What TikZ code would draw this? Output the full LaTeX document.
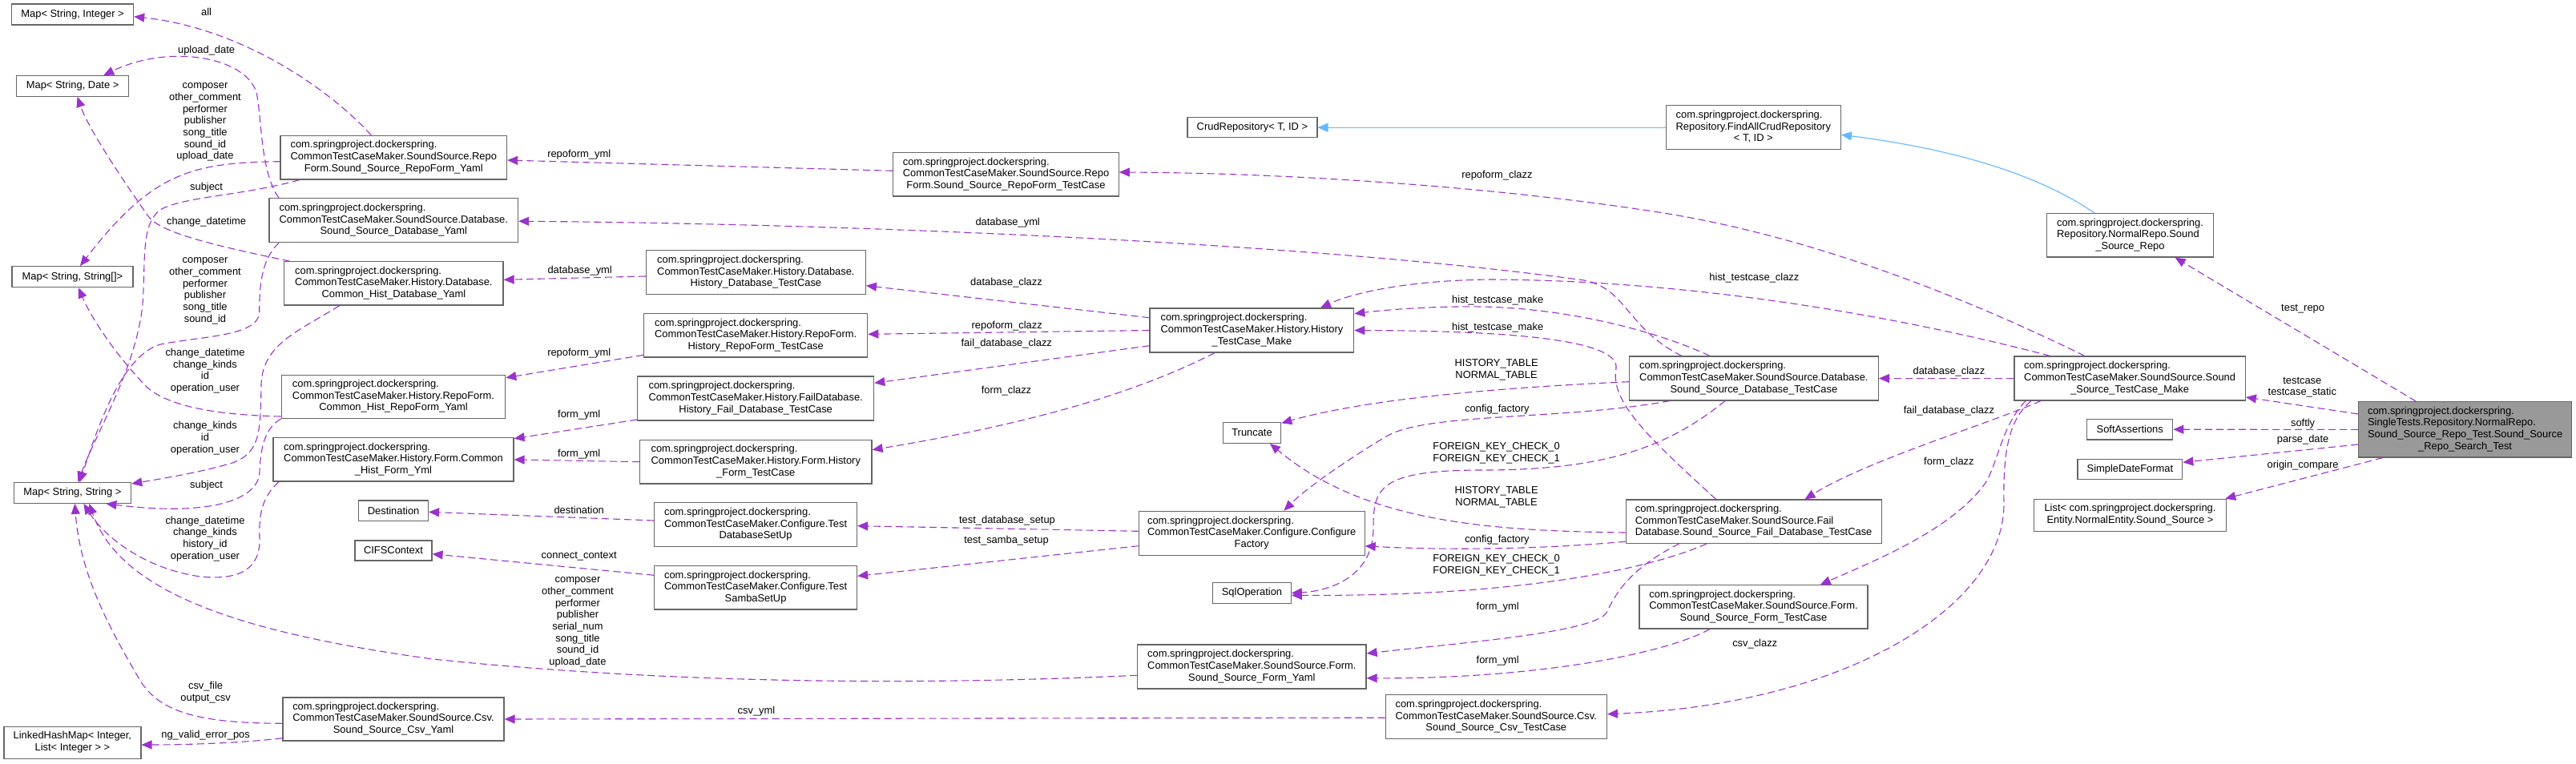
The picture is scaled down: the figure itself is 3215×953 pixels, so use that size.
\documentclass[tikz,border=0pt]{standalone}
\usepackage{fontspec}
\setmainfont{Liberation Sans}
\usetikzlibrary{arrows.meta,positioning}

\definecolor{edgepurple}{HTML}{9A32CD}
\definecolor{boxgray}{HTML}{666666}
\definecolor{mainfill}{HTML}{999999}
\definecolor{inheritblue}{HTML}{63B8FF}

\newcommand{\dfont}{\fontsize{12.9}{14.7}\selectfont}
\newcommand{\csp}{com.springproject.dockerspring.}
% class names: upper lines flush left, last line centred
\newcommand{\clstwo}[2]{\begin{tabular}{@{}l@{}}#1\\\multicolumn{1}{@{}c@{}}{#2}\end{tabular}}
\newcommand{\clsthree}[3]{\begin{tabular}{@{}l@{}}#1\\#2\\\multicolumn{1}{@{}c@{}}{#3}\end{tabular}}
\newcommand{\clsfour}[4]{\begin{tabular}{@{}l@{}}#1\\#2\\#3\\\multicolumn{1}{@{}c@{}}{#4}\end{tabular}}

\begin{document}
\begin{tikzpicture}[
    x=1pt, y=-1pt,
    font=\dfont,
    cbox/.style 2 args={draw=boxgray, line width=1.2pt, fill=white, inner sep=0pt,
        minimum width=#1pt, minimum height=#2pt},
    lbl/.style={inner sep=0pt, align=center},
    member/.style={draw=edgepurple, line width=1.1pt, dash pattern=on 9pt off 5pt,
        -{Triangle[length=13pt,width=11pt]}},
    inherit/.style={draw=inheritblue, line width=1.1pt,
        -{Triangle[length=13pt,width=11pt]}}
]
    \path[use as bounding box, fill=white] (0,0) rectangle (3215,953);

    % column 1
    \node[cbox={152}{26}] (mapInt) at (90.6,18) {Map< String, Integer >};
    \node[cbox={140}{25.5}] (mapDate) at (90.6,107.4) {Map< String, Date >};
    \node[cbox={151}{26}] (mapArr) at (90.4,345.7) {Map< String, String[]>};
    \node[cbox={146.5}{25.6}] (mapStr) at (90.4,615.5) {Map< String, String >};
    \node[cbox={171}{40}] (linkedMap) at (90.4,927.3) {\clstwo{LinkedHashMap< Integer,}{List< Integer > >}};

    % column 2
    \node[cbox={282.5}{54.7}] (ssRepoYaml) at (491.3,196.7) {\clsthree{\csp}{CommonTestCaseMaker.SoundSource.Repo}{Form.Sound\_Source\_RepoForm\_Yaml}};
    \node[cbox={310.6}{55}] (ssDbYaml) at (491.3,275.2) {\clsthree{\csp}{CommonTestCaseMaker.SoundSource.Database.}{Sound\_Source\_Database\_Yaml}};
    \node[cbox={273.3}{54.3}] (histDbYaml) at (491.4,353.9) {\clsthree{\csp}{CommonTestCaseMaker.History.Database.}{Common\_Hist\_Database\_Yaml}};
    \node[cbox={279.4}{54}] (histRepoYaml) at (491,495.3) {\clsthree{\csp}{CommonTestCaseMaker.History.RepoForm.}{Common\_Hist\_RepoForm\_Yaml}};
    \node[cbox={300}{54.3}] (histFormYml) at (491,573.9) {\clsthree{\csp}{CommonTestCaseMaker.History.Form.Common}{\_Hist\_Form\_Yml}};
    \node[cbox={86.8}{25.7}] (destination) at (491.1,637.9) {Destination};
    \node[cbox={96}{25}] (cifs) at (491,687.5) {CIFSContext};
    \node[cbox={276}{54}] (ssCsvYaml) at (491,898) {\clsthree{\csp}{CommonTestCaseMaker.SoundSource.Csv.}{Sound\_Source\_Csv\_Yaml}};

    % column 3
    \node[cbox={274}{55}] (histDbCase) at (943.4,340.2) {\clsthree{\csp}{CommonTestCaseMaker.History.Database.}{History\_Database\_TestCase}};
    \node[cbox={279}{54.3}] (histRepoCase) at (943.2,418.9) {\clsthree{\csp}{CommonTestCaseMaker.History.RepoForm.}{History\_RepoForm\_TestCase}};
    \node[cbox={295}{55}] (histFailCase) at (943.2,497.5) {\clsthree{\csp}{CommonTestCaseMaker.History.FailDatabase.}{History\_Fail\_Database\_TestCase}};
    \node[cbox={289.5}{54.7}] (histFormCase) at (943.3,576.7) {\clsthree{\csp}{CommonTestCaseMaker.History.Form.History}{\_Form\_TestCase}};
    \node[cbox={252.8}{55}] (dbSetUp) at (943.1,655.2) {\clsthree{\csp}{CommonTestCaseMaker.Configure.Test}{DatabaseSetUp}};
    \node[cbox={252.8}{54.3}] (sambaSetUp) at (943.1,733.9) {\clsthree{\csp}{CommonTestCaseMaker.Configure.Test}{SambaSetUp}};
    \node[cbox={281.4}{54.3}] (ssRepoCase) at (1255.5,217.9) {\clsthree{\csp}{CommonTestCaseMaker.SoundSource.Repo}{Form.Sound\_Source\_RepoForm\_TestCase}};

    % column 4
    \node[cbox={162}{25}] (crudRepo) at (1562.9,159.2) {CrudRepository< T, ID >};
    \node[cbox={254.7}{55}] (histMake) at (1562.4,412.5) {\clsthree{\csp}{CommonTestCaseMaker.History.History}{\_TestCase\_Make}};
    \node[cbox={72.4}{25.6}] (truncate) at (1562.5,540.5) {Truncate};
    \node[cbox={281.8}{55}] (confFactory) at (1562.2,665.8) {\clsthree{\csp}{CommonTestCaseMaker.Configure.Configure}{Factory}};
    \node[cbox={97.6}{25.6}] (sqlOp) at (1562.5,740.5) {SqlOperation};
    \node[cbox={285.4}{55}] (ssFormYaml) at (1562.3,832.5) {\clsthree{\csp}{CommonTestCaseMaker.SoundSource.Form.}{Sound\_Source\_Form\_Yaml}};
    \node[cbox={276.3}{55}] (ssCsvCase) at (1867.3,895.2) {\clsthree{\csp}{CommonTestCaseMaker.SoundSource.Csv.}{Sound\_Source\_Csv\_TestCase}};

    % column 5
    \node[cbox={218}{55}] (findAll) at (2188.3,159.2) {\clsthree{\csp}{Repository.FindAllCrudRepository}{< T, ID >}};
    \node[cbox={311}{55}] (ssDbCase) at (2188.9,472.5) {\clsthree{\csp}{CommonTestCaseMaker.SoundSource.Database.}{Sound\_Source\_Database\_TestCase}};
    \node[cbox={319}{54.3}] (ssFailCase) at (2188.7,651.2) {\clsthree{\csp}{CommonTestCaseMaker.SoundSource.Fail}{Database.Sound\_Source\_Fail\_Database\_TestCase}};
    \node[cbox={285}{54.3}] (ssFormCase) at (2188.5,757.9) {\clsthree{\csp}{CommonTestCaseMaker.SoundSource.Form.}{Sound\_Source\_Form\_TestCase}};

    % column 6 and the test class
    \node[cbox={207.4}{54.3}] (normalRepo) at (2658.5,293.9) {\clsthree{\csp}{Repository.NormalRepo.Sound}{\_Source\_Repo}};
    \node[cbox={288.4}{55}] (ssMake) at (2658.1,472.5) {\clsthree{\csp}{CommonTestCaseMaker.SoundSource.Sound}{\_Source\_TestCase\_Make}};
    \node[cbox={107}{25.7}] (softAssert) at (2658.2,536.2) {SoftAssertions};
    \node[cbox={130.7}{25}] (simpleDate) at (2658.4,585.8) {SimpleDateFormat};
    \node[cbox={240}{40}] (listSrc) at (2658.5,643.3) {\clstwo{List< \csp}{Entity.NormalEntity.Sound\_Source >}};
    \node[cbox={266}{69.3}, fill=mainfill] (main) at (3076.6,536.4) {\clsfour{\csp}{SingleTests.Repository.NormalRepo.}{Sound\_Source\_Repo\_Test.Sound\_Source}{\_Repo\_Search\_Test}};

    % inheritance
    \draw[inherit] (findAll.west) -- (crudRepo.east);
    \draw[inherit] ([xshift=-44.2pt]normalRepo.north) .. controls (2540,215) and (2430,185) .. ([yshift=-9.1pt]findAll.east);

    % members, left part
    \draw[member] ([xshift=-28pt]ssRepoYaml.north) .. controls (410,110) and (300,35) .. ([yshift=-2.7pt]mapInt.east);
    \draw[member] ([xshift=-143.3pt]ssDbYaml.north) .. controls (325,215) and (327,150) .. (320,115) .. controls (305,70) and (210,55) .. ([xshift=38.6pt]mapDate.north);
    \draw[member] ([xshift=-129.8pt]histDbYaml.north) .. controls (260,305) and (200,290) .. (185,270) .. controls (150,220) and (110,160) .. ([xshift=6pt]mapDate.south);
    \draw[member] ([yshift=-5pt]ssRepoYaml.west) .. controls (240,203) and (190,215) .. ([xshift=9.6pt]mapArr.north);
    \draw[member] ([yshift=-24.7pt]histRepoYaml.west) .. controls (260,518) and (210,505) .. (185,485) .. controls (150,450) and (115,400) .. ([xshift=7.6pt]mapArr.south);
    \draw[member] ([xshift=-117.6pt]ssRepoYaml.south) .. controls (300,245) and (230,245) .. (200,262) .. controls (175,280) and (182,330) .. (178,380) .. controls (170,460) and (120,540) .. ([xshift=7pt]mapStr.north);
    \draw[member] ([xshift=-143.3pt]ssDbYaml.south) .. controls (325,325) and (324,360) .. (323.7,390) .. controls (323,420) and (250,420) .. (200,430) .. controls (150,445) and (120,540) .. ([xshift=9pt]mapStr.north);
    \draw[member] ([xshift=-67.8pt]histDbYaml.south) .. controls (370,415) and (328,430) .. (326,480) .. controls (325,540) and (325,565) .. (290,578) .. controls (250,590) and (200,598) .. ([yshift=11.5pt]mapStr.east);
    \draw[member] (histRepoYaml.south west) .. controls (330,535) and (325,560) .. (324,590) .. controls (322,625) and (260,645) .. ([xshift=42pt]mapStr.south);
    \draw[member] ([xshift=-143pt]histFormYml.south) .. controls (328,620) and (323,640) .. (324,670) .. controls (326,710) and (300,725) .. (250,720) .. controls (180,710) and (130,670) .. ([xshift=14pt]mapStr.south);
    \draw[member] ([yshift=-10.8pt]ssFormYaml.west) .. controls (1100,858) and (800,850) .. (540,823) .. controls (300,790) and (150,740) .. ([xshift=21pt]mapStr.south);
    \draw[member] ([yshift=-5.3pt]ssCsvYaml.west) .. controls (250,903) and (200,890) .. (175,850) .. controls (140,790) and (100,720) .. ([xshift=3pt]mapStr.south);
    \draw[member] ([yshift=-23.7pt]ssCsvYaml.west) .. controls (300,928) and (230,930) .. ([yshift=-2.7pt]linkedMap.east);

    % members, middle part
    \draw[member] ([yshift=4.6pt]ssRepoCase.west) -- ([yshift=-3.3pt]ssRepoYaml.east);
    \draw[member] ([yshift=-4.8pt]histDbCase.west) -- ([yshift=4.6pt]histDbYaml.east);
    \draw[member] ([yshift=-24.4pt]histRepoCase.west) -- ([yshift=23.6pt]histRepoYaml.east);
    \draw[member] ([yshift=-26.5pt]histFailCase.west) -- ([yshift=26.2pt]histFormYml.east);
    \draw[member] (histFormCase.west) -- (histFormYml.east);
    \draw[member] ([yshift=5.2pt]dbSetUp.west) -- ([yshift=-1.4pt]destination.east);
    \draw[member] ([yshift=15.6pt]sambaSetUp.west) -- ([yshift=-4.2pt]cifs.east);
    \draw[member] ([yshift=2.5pt]confFactory.west) -- ([yshift=-1.5pt]dbSetUp.east);
    \draw[member] ([yshift=-15.9pt]confFactory.west) -- ([yshift=14.6pt]sambaSetUp.east);
    \draw[member] ([yshift=15.8pt]histMake.west) -- ([yshift=-16.5pt]histDbCase.east);
    \draw[member] (histMake.west) -- ([yshift=1.6pt]histRepoCase.east);
    \draw[member] ([yshift=-19.2pt]histMake.west) -- ([yshift=19.2pt]histFailCase.east);
    \draw[member] ([xshift=-46.4pt]histMake.south) .. controls (1400,500) and (1250,535) .. ([yshift=15pt]histFormCase.east);
    \draw[member] ([yshift=-1pt]ssCsvCase.west) -- (ssCsvYaml.east);

    % members, right part
    \draw[member] ([xshift=-90pt]ssDbCase.north) .. controls (2030,410) and (2030,360) .. (1977,350) .. controls (1650,305) and (1100,280) .. ([yshift=-1pt]ssDbYaml.east);
    \draw[member] ([xshift=-55pt]ssDbCase.north) .. controls (2060,410) and (1950,385) .. (1850,383) .. controls (1780,382) and (1720,388) .. ([yshift=20.8pt]histMake.east);
    \draw[member] ([xshift=-47pt]ssFailCase.north) .. controls (2050,540) and (2010,500) .. (2017,460) .. controls (2022,420) and (1850,413) .. (histMake.east);
    \draw[member] ([yshift=-4.2pt]ssDbCase.west) .. controls (1850,485) and (1700,500) .. ([yshift=12.2pt]truncate.east);
    \draw[member] ([xshift=-105pt]ssDbCase.south) .. controls (1950,525) and (1780,515) .. (1730,545) .. controls (1680,575) and (1630,610) .. ([xshift=40.2pt]confFactory.north);
    \draw[member] ([xshift=-36pt]ssDbCase.south) .. controls (2080,560) and (2000,587) .. (1850,587) .. controls (1720,587) and (1714,610) .. (1714,660) .. controls (1714,720) and (1660,738) .. (sqlOp.east);
    \draw[member] ([yshift=-13.8pt]ssFailCase.west) .. controls (1850,663) and (1700,650) .. ([xshift=22.5pt]truncate.south);
    \draw[member] ([yshift=-25pt]ssFailCase.west) .. controls (1900,688) and (1780,686) .. ([yshift=-16pt]confFactory.east);
    \draw[member] ([xshift=-58.7pt]ssFailCase.south) .. controls (2060,710) and (1900,745) .. ([yshift=-2.8pt]sqlOp.east);
    \draw[member] ([xshift=-93pt]ssFailCase.south) .. controls (2030,712) and (2015,745) .. (2005,765) .. controls (1990,790) and (1820,803) .. ([yshift=16.5pt]ssFormYaml.east);
    \draw[member] ([xshift=-54.5pt]ssFormCase.south) .. controls (2070,820) and (1900,848) .. ([yshift=-14.2pt]ssFormYaml.east);

    \draw[member] ([xshift=-56.3pt]ssMake.north) .. controls (2450,370) and (2250,290) .. (2050,262) .. controls (1850,232) and (1600,216) .. ([yshift=2.9pt]ssRepoCase.east);
    \draw[member] ([xshift=-99.4pt]ssMake.north) .. controls (2350,390) and (2100,350) .. (1860,349) .. controls (1760,350) and (1690,365) .. ([xshift=85.6pt]histMake.north);
    \draw[member] (ssMake.west) -- (ssDbCase.east);
    \draw[member] ([xshift=-111pt]ssMake.south) .. controls (2480,530) and (2330,575) .. ([xshift=63.8pt]ssFailCase.north);
    \draw[member] ([xshift=-130pt]ssMake.south) .. controls (2500,530) and (2495,570) .. (2480,600) .. controls (2440,660) and (2340,700) .. ([xshift=83.2pt]ssFormCase.north);
    \draw[member] ([xshift=-123pt]ssMake.south) .. controls (2505,525) and (2500,570) .. (2501,630) .. controls (2500,760) and (2300,880) .. ([yshift=3.5pt]ssCsvCase.east);

    \draw[member] ([xshift=-61.3pt]main.north) -- ([xshift=56.1pt]normalRepo.south);
    \draw[member] ([yshift=19.4pt]main.west) -- ([yshift=-23.5pt]ssMake.east);
    \draw[member] (main.west) -- (softAssert.east);
    \draw[member] ([yshift=-18.6pt]main.west) -- ([yshift=8.5pt]simpleDate.east);
    \draw[member] ([xshift=-103pt]main.south) -- ([xshift=118.7pt]listSrc.north);

    % edge labels
    \node[lbl] (lAll) at (257.6,15) {all};
    \node[lbl] (lUpload) at (257.6,62.7) {upload\_date};
    \node[lbl] (lRepoFields) at (256,152.7) {composer\\other\_comment\\performer\\publisher\\song\_title\\sound\_id\\upload\_date};
    \node[lbl] (lSubjectA) at (257.6,234) {subject};
    \node[lbl] (lChange) at (257.6,277) {change\_datetime};
    \node[lbl] (lDbFields) at (256,363.3) {composer\\other\_comment\\performer\\publisher\\song\_title\\sound\_id};
    \node[lbl] (lHistRepo) at (256,463.3) {change\_datetime\\change\_kinds\\id\\operation\_user};
    \node[lbl] (lHistDb) at (256,547) {change\_kinds\\id\\operation\_user};
    \node[lbl] (lSubjectB) at (257.6,605.7) {subject};
    \node[lbl] (lHistForm) at (256,672.8) {change\_datetime\\change\_kinds\\history\_id\\operation\_user};
    \node[lbl] (lCsvFile) at (256.6,865) {csv\_file\\output\_csv};
    \node[lbl] (lNgPos) at (256.6,917.7) {ng\_valid\_error\_pos};

    \node[lbl] (lRepoYmlA) at (722.7,193.3) {repoform\_yml};
    \node[lbl] (lDbYmlA) at (723.7,337.7) {database\_yml};
    \node[lbl] (lRepoYmlB) at (722.7,440.7) {repoform\_yml};
    \node[lbl] (lFormYmlA) at (722.7,518.3) {form\_yml};
    \node[lbl] (lFormYmlB) at (722.7,566.7) {form\_yml};
    \node[lbl] (lDest) at (722.7,636.7) {destination};
    \node[lbl] (lConnect) at (722.7,695) {connect\_context};
    \node[lbl] (lFormFields) at (721,777) {composer\\other\_comment\\performer\\publisher\\serial\_num\\song\_title\\sound\_id\\upload\_date};
    \node[lbl] (lCsvYml) at (944,888.3) {csv\_yml};

    \node[lbl] (lDbYmlB) at (1257.7,277.7) {database\_yml};
    \node[lbl] (lDbClazzA) at (1256,353.3) {database\_clazz};
    \node[lbl] (lRepoClazzA) at (1256.7,406.7) {repoform\_clazz};
    \node[lbl] (lFailClazzA) at (1256.3,429.3) {fail\_database\_clazz};
    \node[lbl] (lFormClazzA) at (1256,488.3) {form\_clazz};
    \node[lbl] (lDbSetup) at (1257,650) {test\_database\_setup};
    \node[lbl] (lSambaSetup) at (1256,675) {test\_samba\_setup};

    \node[lbl] (lRepoClazzB) at (1868.4,219) {repoform\_clazz};
    \node[lbl] (lMakeA) at (1869.2,375) {hist\_testcase\_make};
    \node[lbl] (lMakeB) at (1869.2,409) {hist\_testcase\_make};
    \node[lbl] (lTableA) at (1867.6,461.7) {HISTORY\_TABLE\\NORMAL\_TABLE};
    \node[lbl] (lConfA) at (1868.4,510.7) {config\_factory};
    \node[lbl] (lKeyA) at (1867.6,565.8) {FOREIGN\_KEY\_CHECK\_0\\FOREIGN\_KEY\_CHECK\_1};
    \node[lbl] (lTableB) at (1867.6,620.8) {HISTORY\_TABLE\\NORMAL\_TABLE};
    \node[lbl] (lConfB) at (1868.4,674) {config\_factory};
    \node[lbl] (lKeyB) at (1867.6,705.8) {FOREIGN\_KEY\_CHECK\_0\\FOREIGN\_KEY\_CHECK\_1};
    \node[lbl] (lFormYmlC) at (1869.2,757.7) {form\_yml};
    \node[lbl] (lFormYmlD) at (1869.2,825) {form\_yml};

    \node[lbl] (lHistClazz) at (2189.4,346.7) {hist\_testcase\_clazz};
    \node[lbl] (lCsvClazz) at (2190.2,804.3) {csv\_clazz};
    \node[lbl] (lDbClazzB) at (2432.4,464.3) {database\_clazz};
    \node[lbl] (lFailClazzB) at (2432.4,513.3) {fail\_database\_clazz};
    \node[lbl] (lFormClazzB) at (2432.4,576.7) {form\_clazz};

    \node[lbl] (lTestRepo) at (2874.1,385.7) {test\_repo};
    \node[lbl] (lTestcase) at (2873.3,483.7) {testcase\\testcase\_static};
    \node[lbl] (lSoftly) at (2874.1,529) {softly};
    \node[lbl] (lParse) at (2874.1,548.7) {parse\_date};
    \node[lbl] (lOrigin) at (2874.1,581) {origin\_compare};
\end{tikzpicture}
\end{document}
